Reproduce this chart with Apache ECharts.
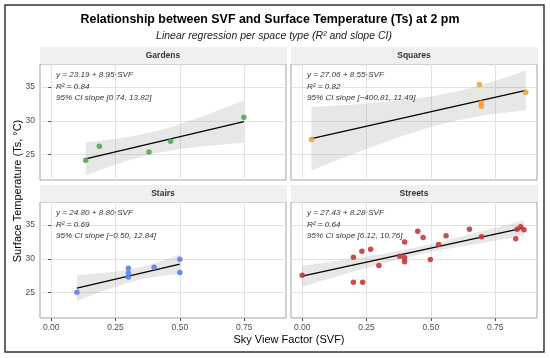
<!DOCTYPE html>
<html>
<head>
<meta charset="utf-8">
<script src="https://cdn.jsdelivr.net/npm/echarts@6/dist/echarts.min.js"></script>
<style>
html,body{margin:0;padding:0;background:#fff;}
#chart{width:550px;height:358px;}
</style>
</head>
<body>
<div id="chart"></div>
<script>
// ---------- data ----------
const panelNames = ['Gardens', 'Squares', 'Stairs', 'Streets'];
const pointColors = ['#52a852', '#f7a02a', '#5b80e4', '#c8373d'];
const xTicks = [0, 0.25, 0.5, 0.75];
const xTickLabels = ['0.00', '0.25', '0.50', '0.75'];
const yTicks = [25, 30, 35];

const gardensX = [0.134, 0.187, 0.380, 0.464, 0.749];
const gardensY = [24.16, 26.23, 25.39, 26.97, 30.52];
const squaresX = [0.036, 0.689, 0.696, 0.696, 0.869];
const squaresY = [27.24, 35.37, 32.65, 32.16, 34.21];
const stairsX = [0.10, 0.30, 0.30, 0.30, 0.40, 0.50, 0.50];
const stairsY = [25.06, 28.60, 27.90, 27.30, 28.76, 29.94, 27.97];
const streetsX = [0.000, 0.199, 0.199, 0.232, 0.235, 0.266, 0.298, 0.379, 0.398, 0.398, 0.398,
                  0.449, 0.470, 0.498, 0.530, 0.559, 0.650, 0.697, 0.830, 0.835, 0.849, 0.862];
const streetsY = [27.57, 30.24, 26.54, 31.12, 26.54, 31.42, 29.01, 30.38, 32.50, 30.15, 29.56,
                  34.08, 33.15, 29.90, 32.12, 33.40, 34.38, 33.25, 32.96, 34.38, 34.73, 34.29];

// regression lines (end points)
const gardensFitX = [0.134, 0.749];
const gardensFitY = [24.39, 29.89];
const squaresFitX = [0.036, 0.869];
const squaresFitY = [27.37, 34.49];
const stairsFitX = [0.10, 0.50];
const stairsFitY = [25.68, 29.20];
const streetsFitX = [0.000, 0.862];
const streetsFitY = [27.43, 34.57];

// confidence bands
const gardensBandX = [0.134, 0.2, 0.3, 0.4, 0.5, 0.6, 0.7, 0.749];
const gardensBandLo = [21.97, 22.88, 24.16, 25.15, 25.84, 26.29, 26.62, 26.75];
const gardensBandHi = [26.83, 27.08, 27.60, 28.39, 29.50, 30.83, 32.30, 33.01];
const squaresBandX = [0.036, 0.1, 0.2, 0.3, 0.4, 0.5, 0.6, 0.7, 0.8, 0.869];
const squaresBandLo = [22.66, 23.66, 25.13, 26.56, 27.89, 29.08, 30.04, 30.77, 31.28, 31.55];
const squaresBandHi = [32.04, 32.18, 32.41, 32.70, 33.07, 33.60, 34.34, 35.33, 36.52, 37.45];
const stairsBandX = [0.10, 0.15, 0.20, 0.25, 0.30, 0.35, 0.40, 0.45, 0.50];
const stairsBandLo = [23.75, 24.49, 25.21, 25.88, 26.48, 26.97, 27.33, 27.58, 27.77];
const stairsBandHi = [27.61, 27.75, 27.91, 28.12, 28.40, 28.79, 29.31, 29.94, 30.63];
const streetsBandX = [0.0, 0.1, 0.2, 0.3, 0.4, 0.5, 0.6, 0.7, 0.8, 0.862];
const streetsBandLo = [25.88, 27.01, 28.12, 29.17, 30.14, 30.99, 31.70, 32.33, 33.05, 33.49];
const streetsBandHi = [28.98, 29.51, 30.06, 30.65, 31.34, 32.15, 33.10, 34.13, 35.05, 35.69];

const annotations = [
  ['y = 23.19 + 8.95·SVF', 'R² = 0.84', '95% CI slope [0.74, 13.82]'],
  ['y = 27.06 + 8.55·SVF', 'R² = 0.82', '95% CI slope [−400.81, 11.49]'],
  ['y = 24.80 + 8.80·SVF', 'R² = 0.69', '95% CI slope [−0.50, 12.84]'],
  ['y = 27.43 + 8.28·SVF', 'R² = 0.64', '95% CI slope [6.12, 10.76]']
];

const titleText = 'Relationship between SVF and Surface Temperature (Ts) at 2 pm';
const subtitleText = 'Linear regression per space type (R² and slope CI)';
const xTitle = 'Sky View Factor (SVF)';
const yTitle = 'Surface Temperature (Ts, °C)';

// ---------- build ----------
const pts = [[gardensX, gardensY], [squaresX, squaresY], [stairsX, stairsY], [streetsX, streetsY]];
const fits = [[gardensFitX, gardensFitY], [squaresFitX, squaresFitY], [stairsFitX, stairsFitY], [streetsFitX, streetsFitY]];
const bands = [[gardensBandX, gardensBandLo, gardensBandHi], [squaresBandX, squaresBandLo, squaresBandHi],
               [stairsBandX, stairsBandLo, stairsBandHi], [streetsBandX, streetsBandLo, streetsBandHi]];

const FONT = 'Liberation Sans, Arial, sans-serif';
const panelPos = [
  {left: 40, top: 64}, {left: 291, top: 64},
  {left: 40, top: 202}, {left: 291, top: 202}
];
const PW = 246, PH = 116, STRIP = 17;

const grids = [], xAxes = [], yAxes = [], series = [], graphics = [];
panelPos.forEach((p, i) => {
  grids.push({left: p.left, top: p.top, width: PW, height: PH, show: true,
    borderColor: '#a3a3a3', borderWidth: 1, backgroundColor: '#fff', containLabel: false});
  const bottomRow = i >= 2, leftCol = (i % 2) === 0;
  xAxes.push({type: 'value', gridIndex: i, min: -0.0435, max: 0.9125,
    axisLine: {show: false},
    axisTick: {show: bottomRow, customValues: xTicks, length: 3, lineStyle: {color: '#4d4d4d'}},
    axisLabel: {show: bottomRow, customValues: xTicks, color: '#4d4d4d', fontSize: 8.5, fontFamily: FONT, margin: 5,
      formatter: v => xTickLabels[xTicks.indexOf(Math.round(v * 100) / 100)] ?? ''},
    splitLine: {show: false}
  });
  yAxes.push({type: 'value', gridIndex: i, min: 21.25, max: 38.4,
    axisLine: {show: false},
    axisTick: {show: leftCol, customValues: yTicks, length: 3, lineStyle: {color: '#4d4d4d'}},
    axisLabel: {show: leftCol, customValues: yTicks, color: '#4d4d4d', fontSize: 8.5, fontFamily: FONT, margin: 5},
    splitLine: {show: false}
  });
  // grid lines via markLine (kept beneath the marks)
  series.push({type: 'line', xAxisIndex: i, yAxisIndex: i, data: [], silent: true, z: 0,
    markLine: {silent: true, symbol: 'none', label: {show: false}, animation: false, z: 0, zlevel: 0,
      lineStyle: {color: '#e3e3e3', width: 1, type: 'solid'},
      data: xTicks.map(v => ({xAxis: v})).concat(yTicks.map(v => ({yAxis: v})))}
  });
  // CI band
  const b = bands[i];
  series.push({type: 'custom', xAxisIndex: i, yAxisIndex: i, z: 2, silent: true, clip: true,
    data: [0],
    renderItem: (params, api) => {
      const poly = [];
      for (let k = 0; k < b[0].length; k++) poly.push(api.coord([b[0][k], b[2][k]]));
      for (let k = b[0].length - 1; k >= 0; k--) poly.push(api.coord([b[0][k], b[1][k]]));
      return {type: 'polygon', shape: {points: poly}, style: {fill: 'rgba(153,153,153,0.24)'}};
    }
  });
  // fit line
  const f = fits[i];
  series.push({type: 'line', xAxisIndex: i, yAxisIndex: i, z: 3, silent: true, symbol: 'none',
    lineStyle: {color: '#000', width: 1.3}, data: f[0].map((x, k) => [x, f[1][k]])});
  // points
  const pp = pts[i];
  series.push({type: 'scatter', xAxisIndex: i, yAxisIndex: i, z: 6, silent: true, symbolSize: 5.5,
    itemStyle: {color: pointColors[i], opacity: 0.9},
    data: pp[0].map((x, k) => [x, pp[1][k]])});
  // strip
  graphics.push({type: 'rect', shape: {x: p.left, y: p.top - STRIP, width: PW + 1, height: STRIP},
    style: {fill: '#f0f0f0'}, silent: true});
  graphics.push({type: 'text', x: p.left + PW / 2, y: p.top - STRIP / 2,
    style: {text: panelNames[i], fill: '#333', font: 'bold 8.5px ' + FONT, align: 'center', verticalAlign: 'middle'}});
  // annotation
  annotations[i].forEach((t, k) => {
    graphics.push({type: 'text', x: p.left + 16, y: p.top + 11 + k * 11.4, z: 10,
      style: {text: t, fill: '#333', font: 'italic 8.1px ' + FONT, align: 'left', verticalAlign: 'middle'}});
  });
});

// titles & frame
graphics.push({type: 'rect', shape: {x: 5, y: 5, width: 539, height: 347},
  style: {fill: 'none', stroke: '#333', lineWidth: 1.5}, silent: true});
graphics.push({type: 'text', x: 270, y: 20,
  style: {text: titleText, fill: '#000', font: 'bold 12.4px ' + FONT, align: 'center', verticalAlign: 'middle'}});
graphics.push({type: 'text', x: 274, y: 36,
  style: {text: subtitleText, fill: '#1a1a1a', font: 'italic 10.5px ' + FONT, align: 'center', verticalAlign: 'middle'}});
graphics.push({type: 'text', x: 289, y: 340,
  style: {text: xTitle, fill: '#000', font: '11px ' + FONT, align: 'center', verticalAlign: 'middle'}});
graphics.push({type: 'text', x: 18, y: 191, rotation: Math.PI / 2,
  style: {text: yTitle, fill: '#000', font: '11px ' + FONT, align: 'center', verticalAlign: 'middle'}});

const chart = echarts.init(document.getElementById('chart'), null, {renderer: 'canvas'});
chart.setOption({
  animation: false,
  backgroundColor: '#fff',
  grid: grids, xAxis: xAxes, yAxis: yAxes, series: series, graphic: graphics
});
</script>
</body>
</html>
